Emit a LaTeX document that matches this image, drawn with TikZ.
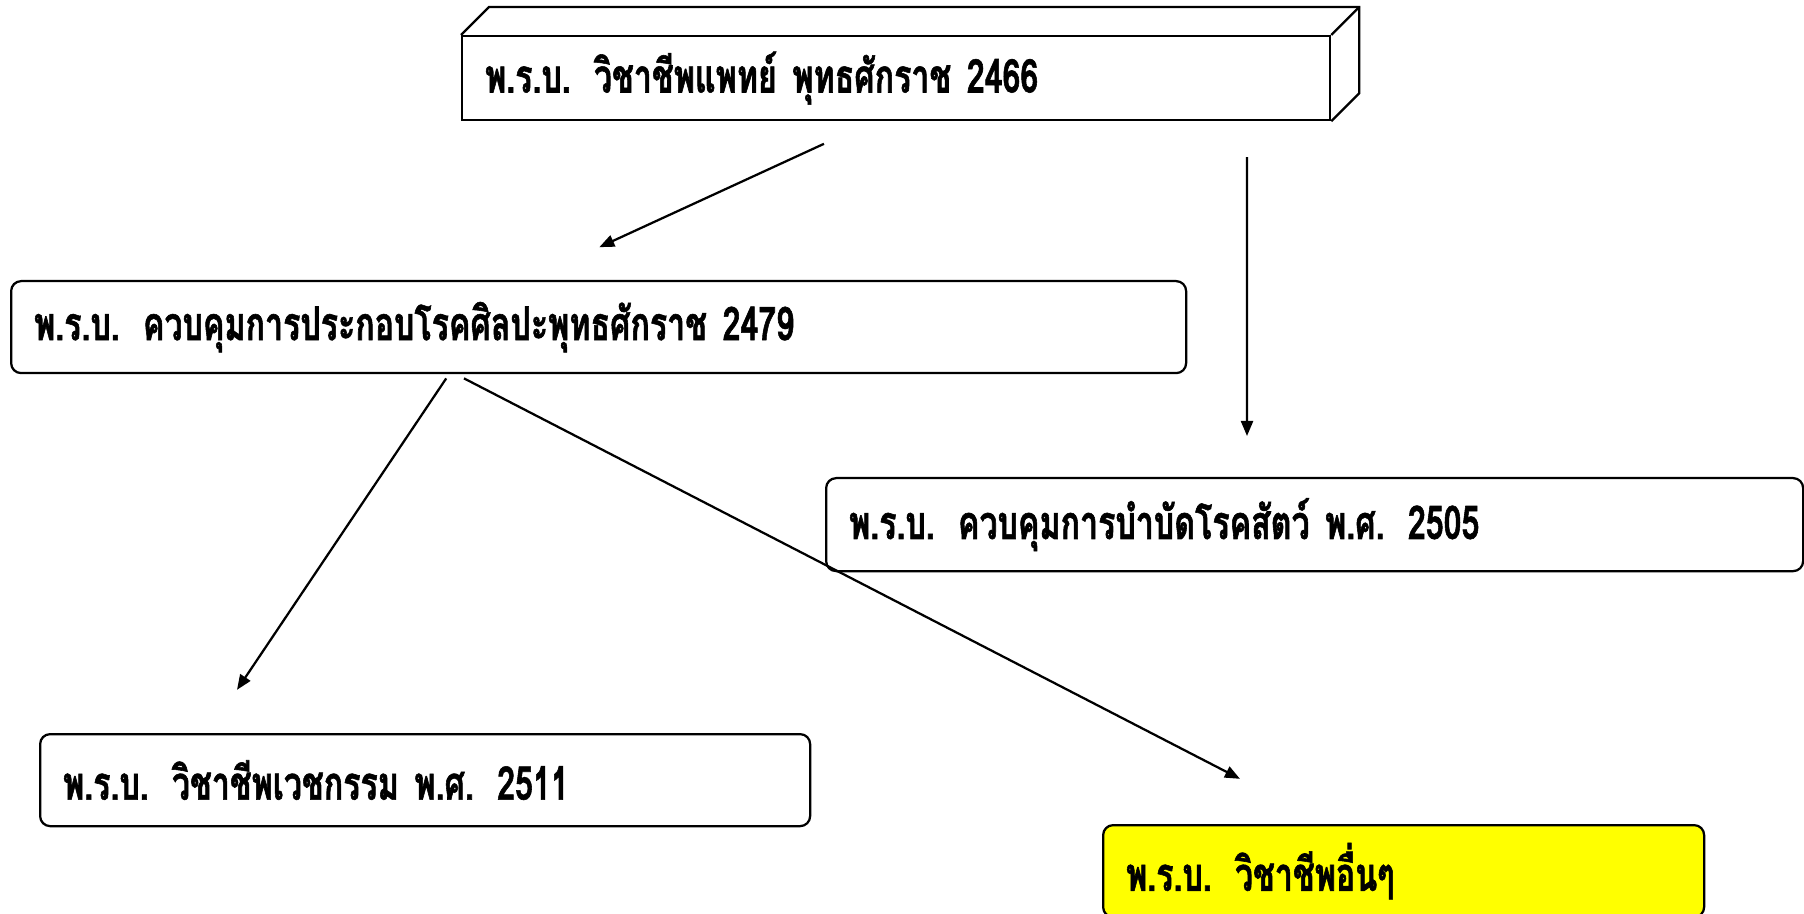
\documentclass[tikz,border=0pt]{standalone}
\usepackage{fontspec}
\usetikzlibrary{arrows.meta}
\newfontfamily\thaifont[Script=Thai,FakeStretch=0.69,FakeBold=1.2]{Loma}
\definecolor{otheryellow}{RGB}{255,255,0}

\begin{document}
\begin{tikzpicture}[x=0.2mm,y=-0.2mm,
    lawbox/.style={draw, line width=0.45mm, rounded corners=2mm, anchor=north west,
      inner xsep=4.6mm, inner ysep=0pt, align=left, minimum height=18.4mm,
      font=\thaifont\bfseries\fontsize{26.5}{30}\selectfont},
    arr/.style={line width=0.45mm, -{Triangle[length=3mm,width=2.4mm]}}]
        \useasboundingbox (0,0) rectangle (1804,914);

        % top act, drawn as a block
        \node[lawbox, sharp corners, minimum height=16.8mm, text width=164.4mm] (medact) at (461,35)
            {พ.ร.บ. วิชาชีพแพทย์ พุทธศักราช 2466};
        \draw[line width=0.45mm] (medact.north west) -- ++(5.6mm,5.6mm)
            -- ([shift={(5.6mm,5.6mm)}]medact.north east)
            -- ([shift={(5.6mm,5.6mm)}]medact.south east) -- (medact.south east);
        \draw[line width=0.45mm] (medact.north east) -- ++(5.6mm,5.6mm);

        % later acts
        \node[lawbox, text width=225.8mm] (artact) at (10,280)
            {พ.ร.บ. ควบคุมการประกอบโรคศิลปะพุทธศักราช 2479};
        \node[lawbox, minimum height=18.6mm, text width=186.2mm] (animact) at (825,477)
            {พ.ร.บ. ควบคุมการบำบัดโรคสัตว์ พ.ศ. 2505};
        \node[lawbox, text width=144.8mm] (vetact) at (39,733)
            {พ.ร.บ. วิชาชีพเวชกรรม พ.ศ. 2511};
        \node[lawbox, fill=otheryellow, text width=111mm] (otheract) at (1102,824)
            {พ.ร.บ. วิชาชีพอื่นๆ};

        % arrows
        \draw[arr, shorten <=10.8mm, shorten >=15.7mm]
            ([xshift=82.4mm]medact.south west) -- ([xshift=103.6mm]artact.north west);
        \draw[arr, shorten <=7.2mm, shorten >=8.2mm]
            ([xshift=157.2mm]medact.south west) -- ([xshift=84.4mm]animact.north west);
        \draw[arr, shorten <=1mm, shorten >=10.4mm]
            ([xshift=87.8mm]artact.south west) -- ([xshift=33.8mm]vetact.north west);
        \draw[arr, shorten <=1.8mm, shorten >=19.7mm]
            ([xshift=89.2mm]artact.south west) -- ([xshift=45.1mm]otheract.north west);
    \end{tikzpicture}
\end{document}
